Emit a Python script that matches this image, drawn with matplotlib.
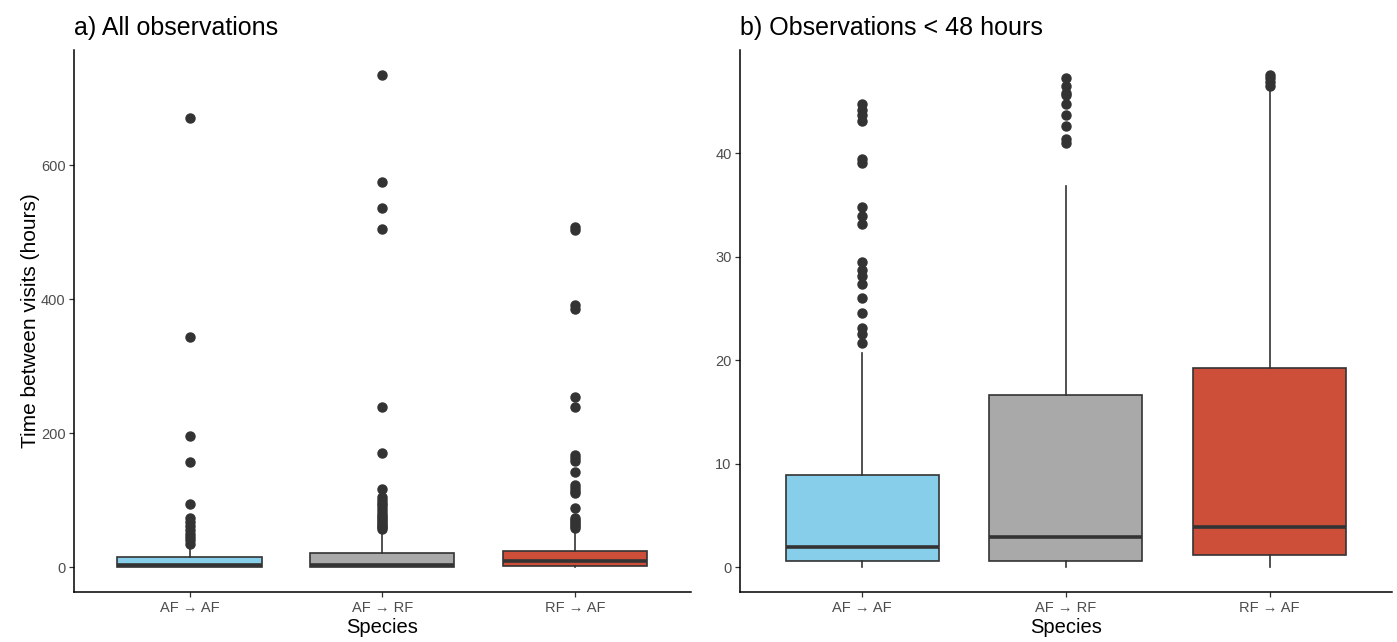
import matplotlib
matplotlib.use("Agg")
import matplotlib.pyplot as plt

plt.rcParams['font.family'] = ['Liberation Sans', 'DejaVu Sans']

categories = ["AF \u2192 AF", "AF \u2192 RF", "RF \u2192 AF"]
colors = ["#87CEEB", "#A9A9A9", "#CD4F39"]

# Panel a) all observations: box statistics (hours)
a_q1 = [0.4, 0.5, 1.0]
a_med = [2.5, 3.0, 9.0]
a_q3 = [14.4, 20.9, 24.4]
a_whislo = [0.0, 0.0, 0.0]
a_whishi = [31.0, 52.0, 55.0]
a_fliers = [
    [34.8, 39.8, 44.8, 49.8, 55.7, 61.7, 68.0, 73.0, 94.6, 157.0, 196.0, 343.0, 671.5],
    [57, 60, 62, 65, 68, 71, 74, 77, 80, 84, 88, 92, 96, 100, 104, 117, 171, 239.7, 504.6, 537, 575, 735.7],
    [58, 61, 64, 67, 70, 73, 89, 110, 113, 118, 123, 142, 158, 163, 167, 239, 254, 386, 392, 504, 508],
]

# Panel b) observations < 48 hours
b_q1 = [0.6, 0.59, 1.15]
b_med = [1.96, 2.88, 3.92]
b_q3 = [8.87, 16.67, 19.22]
b_whislo = [0.0, 0.0, 0.0]
b_whishi = [20.7, 36.8, 46.3]
b_fliers = [
    [21.7, 22.5, 23.1, 24.6, 26.0, 27.4, 28.1, 28.7, 29.5, 33.2, 33.9, 34.8,
     39.1, 39.4, 43.1, 43.7, 44.2, 44.75],
    [41.0, 41.4, 42.6, 43.7, 44.75, 45.6, 45.8, 46.5, 47.3],
    [46.5, 46.9, 47.3, 47.6],
]

a_yticks = [0, 200, 400, 600]
b_yticks = [0, 10, 20, 30, 40]

W, H = 1397, 642
fig = plt.figure(figsize=(W / 100, H / 100), dpi=100)
ax_a = fig.add_axes([74 / W, 1 - 591.7 / H, 616.5 / W, 541.7 / H])
ax_b = fig.add_axes([740 / W, 1 - 591.7 / H, 651.7 / W, 541.7 / H])

dark = "#333333"


def draw(ax, q1, med, q3, lo, hi, fliers, yticks, title, ylabel=None):
    stats = []
    for i in range(len(categories)):
        stats.append(dict(q1=q1[i], med=med[i], q3=q3[i], whislo=lo[i],
                          whishi=hi[i], fliers=fliers[i], label=categories[i]))
    bp = ax.bxp(stats, positions=[1, 2, 3], widths=0.75, patch_artist=True,
                showcaps=False,
                boxprops=dict(edgecolor=dark, linewidth=1.2),
                medianprops=dict(color=dark, linewidth=2.6, solid_capstyle='butt'),
                whiskerprops=dict(color=dark, linewidth=1.2),
                flierprops=dict(marker='o', markerfacecolor=dark, markeredgecolor=dark,
                                markersize=6.5, linestyle='none'))
    for patch, c in zip(bp['boxes'], colors):
        patch.set_facecolor(c)
    allv = [v for f in fliers for v in f] + list(lo) + list(hi)
    vmin, vmax = min(allv), max(allv)
    rng = vmax - vmin
    ax.set_ylim(vmin - 0.05 * rng, vmax + 0.05 * rng)
    ax.set_xlim(0.4, 3.6)
    ax.set_yticks(yticks)
    ax.set_yticklabels([str(t) for t in yticks])
    ax.set_xticks([1, 2, 3])
    ax.set_xticklabels(categories)
    for s in ['top', 'right']:
        ax.spines[s].set_visible(False)
    for s in ['left', 'bottom']:
        ax.spines[s].set_linewidth(1.1)
        ax.spines[s].set_color('black')
    ax.tick_params(axis='both', colors=dark, labelcolor="#4D4D4D", labelsize=10.5,
                   length=3.6, width=0.9, pad=2.4)
    ax.tick_params(axis='x', pad=3.0)
    ax.set_xlabel("Species", fontsize=14.5, labelpad=2.5, color='black')
    if ylabel:
        ax.set_ylabel(ylabel, fontsize=15, labelpad=1, color='black')
    ax.set_title(title, loc='left', fontsize=18, pad=11, color='black')


draw(ax_a, a_q1, a_med, a_q3, a_whislo, a_whishi, a_fliers, a_yticks,
     "a) All observations", ylabel="Time between visits (hours)")
draw(ax_b, b_q1, b_med, b_q3, b_whislo, b_whishi, b_fliers, b_yticks,
     "b) Observations < 48 hours")

fig.savefig("out.png", dpi=100)
